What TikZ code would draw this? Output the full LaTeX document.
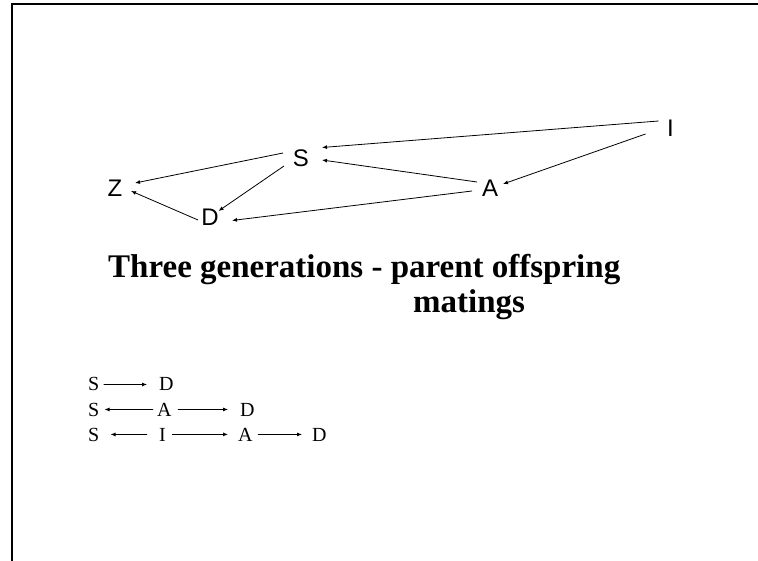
\documentclass[tikz,border=0pt]{standalone}
\usepackage{fontspec}
\setmainfont{Liberation Serif}
\setsansfont{Liberation Sans}
\usetikzlibrary{arrows.meta,calc}
\begin{document}
\begin{tikzpicture}[x=1pt,y=-1pt,
  gl/.style={font=\sffamily\fontsize{24}{24}\selectfont, inner sep=0pt},
  ga/.style={-{Latex[length=5pt,width=4pt]}, line width=0.8pt},
  bt/.style={font=\fontsize{20}{20}\selectfont, inner sep=0pt, anchor=base west},
  ba/.style={-{Latex[length=5pt,width=4pt]}, line width=0.8pt},
  tt/.style={font=\bfseries\fontsize{33}{33}\selectfont, inner sep=0pt, anchor=base west},
  frame/.style={line width=2pt}
]
\useasboundingbox (0,0) rectangle (758,561);
\draw[frame] (12,561) -- (12,4) -- (758,4);

% graph
\node[gl] (I) at (670.5,128.5) {I};
\node[gl] (S) at (301,158.5) {S};
\node[gl] (A) at (490,188.5) {A};
\node[gl] (Z) at (115,188) {Z};
\node[gl] (D) at (210,217.5) {D};

\draw[ga] ($(I)+(-12,-7.5)$) -- ($(S)+(21,-11)$);
\draw[ga] ($(I)+(-25,5.5)$) -- ($(A)+(13,-4.5)$);
\draw[ga] ($(A)+(-13,-6.5)$) -- ($(S)+(21,1.5)$);
\draw[ga] ($(A)+(-18,2.5)$) -- ($(D)+(22,3)$);
\draw[ga] ($(S)+(-18,-5.5)$) -- ($(Z)+(20,-5)$);
\draw[ga] ($(S)+(-17,7.5)$) -- ($(D)+(8.5,-6.5)$);
\draw[ga] ($(D)+(-12,2.5)$) -- ($(Z)+(16,3)$);

% title
\node[tt] (t1) at (108,278) {Three generations - parent offspring};
\node[tt] (t2) at (413,313) {matings};

% bottom rows
\node[bt] (r1s) at (88,391) {S};
\node[bt] (r1d) at (159,391) {D};
\node[bt] (r2s) at (88,416) {S};
\node[bt] (r2a) at (157,416) {A};
\node[bt] (r2d) at (240,416) {D};
\node[bt] (r3s) at (88,441) {S};
\node[bt] (r3i) at (159,441) {I};
\node[bt] (r3a) at (238,441) {A};
\node[bt] (r3d) at (312,441) {D};

\draw[ba, shorten <=4pt, shorten >=12pt] (r1s.east) -- (r1d.west);
\draw[ba, shorten <=4pt, shorten >=5pt] (r2a.west) -- (r2s.east);
\draw[ba, shorten <=6pt, shorten >=12pt] (r2a.east) -- (r2d.west);
\draw[ba, shorten <=12pt, shorten >=11pt] (r3i.west) -- (r3s.east);
\draw[ba, shorten <=6pt, shorten >=10pt] (r3i.east) -- (r3a.west);
\draw[ba, shorten <=5pt, shorten >=10pt] (r3a.east) -- (r3d.west);
\end{tikzpicture}
\end{document}
